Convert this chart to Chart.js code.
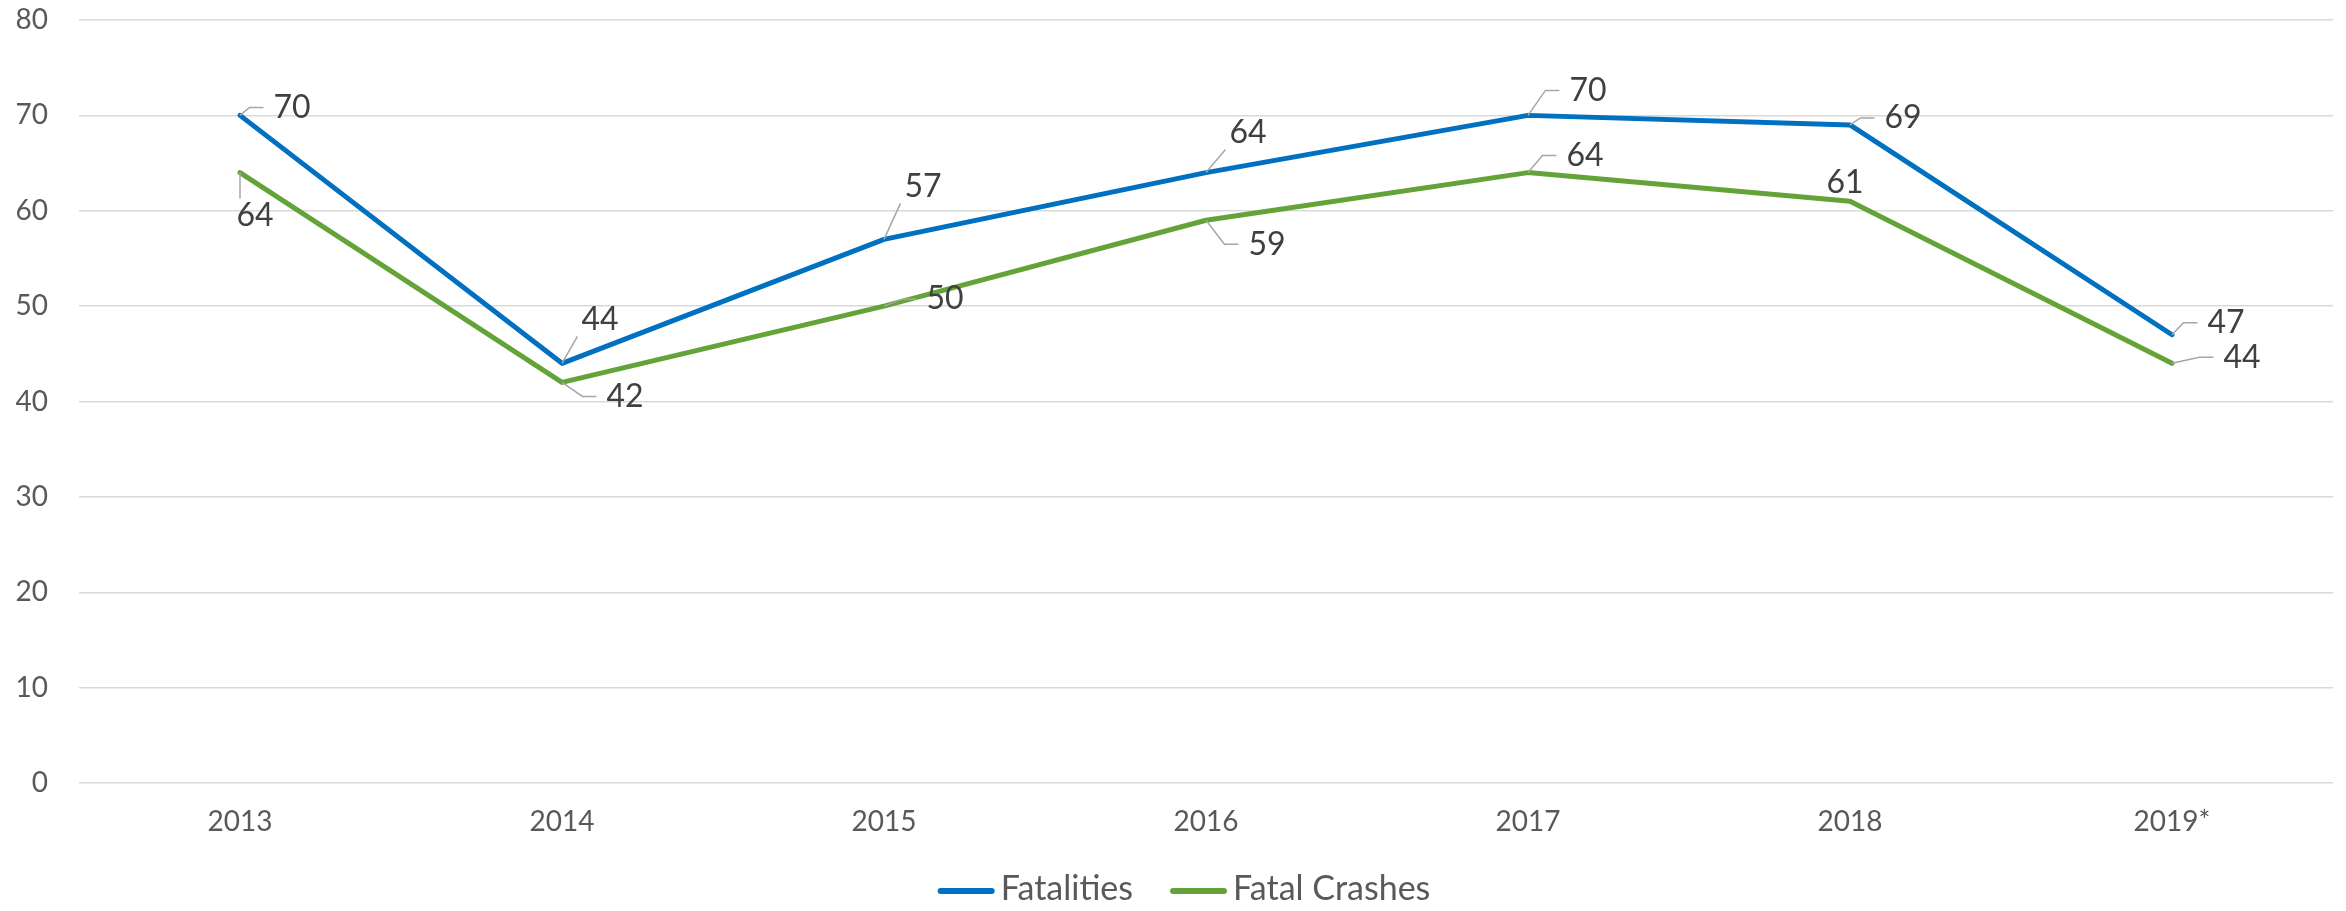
<!DOCTYPE html>
<html>
<head>
<meta charset="utf-8">
<script src="https://cdn.jsdelivr.net/npm/chart.js@4/dist/chart.umd.min.js"></script>
<style>
  body { margin: 0; background: #fff; }
  canvas { display: block; }
</style>
</head>
<body>
<canvas id="grafico" width="2346" height="911"></canvas>
<script>
// Dados do gráfico
const anos = ['2013', '2014', '2015', '2016', '2017', '2018', '2019*'];
const fatalidades = [70, 44, 57, 64, 70, 69, 47];
const acidentesFatais = [64, 42, 50, 59, 64, 61, 44];
const ticksY = [0, 10, 20, 30, 40, 50, 60, 70, 80];

// Deslocamento dos rótulos (em px) em relação ao ponto, como no original
const deslocRotulos = [
    [[52, -8], [38, -44], [39, -53], [42, -40], [60, -25], [53, -7], [54, -12]],
    [[15, 43], [63, 14], [61, -7], [61, 24], [57, -17], [-5, -19], [70, -6]]
];

const fonte = 'Lato, "Open Sans", sans-serif';

// Plugin para desenhar os rótulos com linhas de chamada
const rotulosPlugin = {
    id: 'rotulos',
    afterDatasetsDraw(chart) {
        const ctx = chart.ctx;
        ctx.save();
        ctx.font = '32px ' + fonte;
        ctx.textAlign = 'center';
        ctx.textBaseline = 'middle';
        chart.data.datasets.forEach((ds, d) => {
            const meta = chart.getDatasetMeta(d);
            meta.data.forEach((pt, i) => {
                const [dx, dy] = deslocRotulos[d][i];
                const lx = pt.x + dx;
                const ly = pt.y + dy;
                const txt = String(ds.data[i]);
                const w = ctx.measureText(txt).width;
                const left = lx - w / 2, right = lx + w / 2;
                const top = ly - 13, bottom = ly + 13;

                // linha de chamada
                ctx.strokeStyle = '#a6a6a6';
                ctx.lineWidth = 1.5;
                ctx.beginPath();
                if (left - 24 > pt.x + 3) {
                    ctx.moveTo(pt.x, pt.y);
                    ctx.lineTo(left - 24, ly);
                    ctx.lineTo(left - 10, ly);
                    ctx.stroke();
                } else {
                    const tx = Math.min(Math.max(pt.x, left), right);
                    const ty = Math.min(Math.max(pt.y, top), bottom);
                    if (Math.hypot(tx - pt.x, ty - pt.y) > 14) {
                        ctx.moveTo(pt.x, pt.y);
                        ctx.lineTo(tx + (pt.x < tx ? -4 : 0), ty + (pt.y > ty ? 4 : -4));
                        ctx.stroke();
                    }
                }

                ctx.fillStyle = '#404040';
                ctx.fillText(txt, lx, ly);
            });
        });
        ctx.restore();
    }
};

// Legenda desenhada à mão (espaçamento igual ao do Excel)
const legendaPlugin = {
    id: 'legenda',
    afterDraw(chart) {
        const ctx = chart.ctx;
        const caixa = 57, gapTexto = 6, gapItem = 37;
        const y = chart.chartArea.bottom + 106;
        ctx.save();
        ctx.font = '34px ' + fonte;
        ctx.textBaseline = 'middle';
        ctx.textAlign = 'left';
        const itens = chart.data.datasets.map(ds => ({
            texto: ds.label,
            cor: ds.borderColor,
            w: ctx.measureText(ds.label).width
        }));
        const total = itens.reduce((acc, it) => acc + caixa + gapTexto + it.w, 0) + gapItem * (itens.length - 1);
        let x = chart.width / 2 + 11 - total / 2;
        itens.forEach(it => {
            ctx.strokeStyle = it.cor;
            ctx.lineWidth = 6;
            ctx.lineCap = 'round';
            ctx.beginPath();
            ctx.moveTo(x + 3, y + 2);
            ctx.lineTo(x + caixa - 3, y + 2);
            ctx.stroke();
            ctx.fillStyle = '#595959';
            ctx.fillText(it.texto, x + caixa + gapTexto, y);
            x += caixa + gapTexto + it.w + gapItem;
        });
        ctx.restore();
    }
};

document.addEventListener('DOMContentLoaded', () => {
    const ctx = document.getElementById('grafico').getContext('2d');
    new Chart(ctx, {
        type: 'line',
        data: {
            labels: anos,
            datasets: [{
                label: 'Fatalities',
                data: fatalidades,
                borderColor: '#0070c0',
                backgroundColor: '#0070c0'
            }, {
                label: 'Fatal Crashes',
                data: acidentesFatais,
                borderColor: '#64a338',
                backgroundColor: '#64a338'
            }]
        },
        options: {
            responsive: false,
            animation: false,
            layout: { padding: { top: 20, right: 13, left: 0, bottom: 78 } },
            elements: {
                line: { borderWidth: 5, tension: 0, borderCapStyle: 'round', borderJoinStyle: 'round' },
                point: { radius: 0, hoverRadius: 0 }
            },
            scales: {
                x: {
                    offset: true,
                    grid: { display: false },
                    border: { display: false },
                    afterFit: (scale) => { scale.height = 50; },
                    ticks: { color: '#595959', font: { family: fonte, size: 28 }, padding: 14 }
                },
                y: {
                    min: 0,
                    max: 80,
                    afterBuildTicks: (scale) => { scale.ticks = ticksY.map(v => ({ value: v })); },
                    afterFit: (scale) => {
                        scale.width = 79;
                        scale.paddingTop = 0;
                        scale.paddingBottom = 0;
                    },
                    grid: { color: '#d9d9d9', lineWidth: 1.5, drawTicks: false },
                    border: { display: false },
                    ticks: { color: '#595959', font: { family: fonte, size: 28 }, padding: 31 }
                }
            },
            plugins: {
                legend: { display: false },
                tooltip: { enabled: false }
            }
        },
        plugins: [rotulosPlugin, legendaPlugin]
    });
});
</script>
</body>
</html>
